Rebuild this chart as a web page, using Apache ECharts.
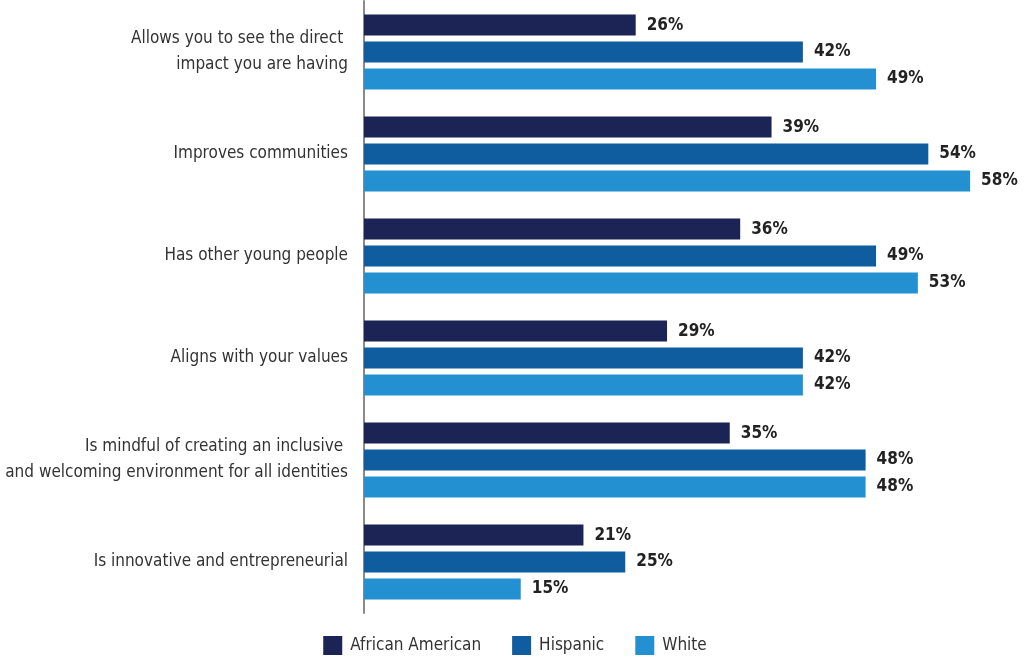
<!DOCTYPE html>
<html>
<head>
<meta charset="utf-8">
<script src="https://cdn.jsdelivr.net/npm/echarts@6/dist/echarts.min.js"></script>
<style>
  html, body { margin: 0; padding: 0; background: #ffffff; }
  #chart { width: 1030px; height: 658px; }
</style>
</head>
<body>
<div id="chart"></div>
<script>
// Reasons young people choose where to give their time, by group (% selecting)
const categories = [
  'Allows you to see the direct \nimpact you are having',
  'Improves communities',
  'Has other young people',
  'Aligns with your values',
  'Is mindful of creating an inclusive \nand welcoming environment for all identities',
  'Is innovative and entrepreneurial'
];
const seriesNames = ['African American', 'Hispanic', 'White'];
const africanAmerican = [26, 39, 36, 29, 35, 21];
const hispanic = [42, 54, 49, 42, 48, 25];
const white = [49, 58, 53, 42, 48, 15];

const colors = ['#1b2454', '#0f5c9f', '#2391d1'];
const FONT = '"Liberation Sans Narrow", "DejaVu Sans Condensed", "Roboto Condensed", "Liberation Sans", sans-serif';

const chart = echarts.init(document.getElementById('chart'), null, { renderer: 'canvas' });

function barSeries(name, data, color) {
  return {
    name: name,
    type: 'bar',
    data: data,
    barWidth: 21,
    barGap: '28%',
    itemStyle: { color: color },
    label: {
      show: true,
      position: 'right',
      distance: 11,
      formatter: '{c}%',
      color: '#222222',
      fontFamily: FONT,
      fontWeight: 'bold',
      fontSize: 17
    }
  };
}

chart.setOption({
  animation: false,
  backgroundColor: '#ffffff',
  color: colors,
  grid: {
    left: 364, top: 1, width: 627, height: 612,
    containLabel: false,
    outerBoundsMode: 'none'
  },
  xAxis: {
    type: 'value',
    min: 0,
    max: 60,
    show: false
  },
  yAxis: {
    type: 'category',
    data: categories,
    inverse: true,
    axisLine: { show: true, lineStyle: { color: '#8a8a8a', width: 2 } },
    axisTick: { show: false },
    splitLine: { show: false },
    axisLabel: {
      margin: 16,
      color: '#333333',
      fontFamily: FONT,
      fontSize: 17,
      lineHeight: 26,
      padding: [8, 0, 0, 0],
      align: 'right'
    }
  },
  legend: {
    data: seriesNames,
    bottom: 3,
    left: 'center',
    padding: 0,
    icon: 'rect',
    itemWidth: 19,
    itemHeight: 19,
    itemGap: 31,
    textStyle: { color: '#333333', fontFamily: FONT, fontSize: 17, padding: [0, 0, 0, 3] }
  },
  series: [
    barSeries(seriesNames[0], africanAmerican, colors[0]),
    barSeries(seriesNames[1], hispanic, colors[1]),
    barSeries(seriesNames[2], white, colors[2])
  ]
});
</script>
</body>
</html>
